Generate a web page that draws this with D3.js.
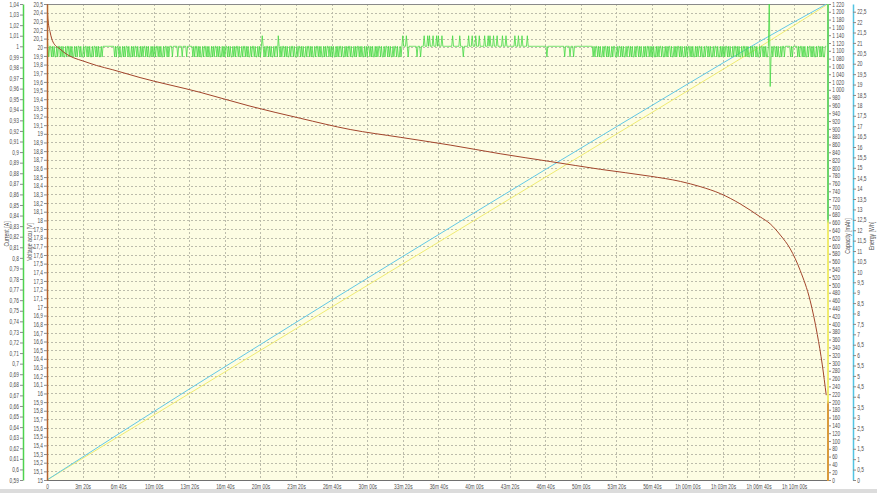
<!DOCTYPE html>
<html><head><meta charset="utf-8">
<script src="https://cdn.jsdelivr.net/npm/d3@7"></script>
<style>
body{margin:0;background:#ffffff;}
svg{display:block;font-family:"Liberation Sans",Arial,sans-serif;}
</style>
</head><body>
<svg id="chart" width="877" height="493"></svg>
<script>
// ---------------- DATA ----------------
const timeTicks = [0,200,400,600,800,1000,1200,1400,1600,1800,2000,2200,2400,2600,2800,3000,3200,3400,3600,3800,4000,4200];
const timeTickLabels = ["0","3m 20s","6m 40s","10m 00s","13m 20s","16m 40s","20m 00s","23m 20s","26m 40s","30m 00s","33m 20s","36m 40s","40m 00s","43m 20s","46m 40s","50m 00s","53m 20s","56m 40s","1h 00m 00s","1h 03m 20s","1h 06m 40s","1h 10m 00s"];

// Voltage (accu) [V] vs time [s]
const voltageTime   = [0, 5, 17, 34, 73, 110, 148, 205, 278, 370, 523, 860, 1141, 1423, 1704, 1985, 2266, 2547, 2828, 3110, 3391, 3560, 3672, 3784, 3897, 4009, 4065, 4122, 4178, 4234, 4290, 4330, 4358, 4380];
const voltageValues = [20.55, 20.33, 20.18, 20.06, 19.98, 19.92, 19.88, 19.84, 19.79, 19.74, 19.65, 19.48, 19.32, 19.18, 19.05, 18.96, 18.87, 18.77, 18.68, 18.59, 18.51, 18.45, 18.39, 18.31, 18.19, 18.04, 17.96, 17.83, 17.67, 17.42, 17.07, 16.68, 16.33, 15.98];

// Capacity [mAh] vs time
const capacityTime   = [0, 1000, 2000, 3000, 4000, 4380];
const capacityValues = [0, 277, 554, 831, 1108, 1217];

// Energy [Wh] vs time
const energyTime   = [0, 400, 800, 1200, 1600, 2000, 2400, 2800, 3200, 3600, 4000, 4380];
const energyValues = [0, 2.20, 4.37, 6.51, 8.64, 10.74, 12.83, 14.91, 16.97, 19.02, 21.04, 22.86];

// Current [A]: one code per 5 s sample; block k starts at k*200 s
const currentSampleSeconds = 5;
const currentBlockSeconds = 200;
const currentLevels = {"0":0.99, "1":1.00, "2":1.01, "H":1.05, "L":0.962};
const currentBlocks = [
  "2101101010010110101001011010100101011010",
  "0101101010010110101001011111111111110101",
  "1010010101101001010110100101011010100101",
  "0101101010010110101110111110111101111011",
  "1111010110101001011010100101011010100101",
  "0110101001010110100101101010010110100101",
  "0121010110101001011021010110101001011010",
  "0101101010010110101001011010100101011010",
  "1010010101101001010110100101011010100101",
  "0110101001010110100101101010010110100101",
  "2111210111111111011101112111212111211121",
  "2111211111111111211111112111011111211121",
  "1121112111112111212111211121111121112111",
  "1111112111211121111121111111111111111111",
  "1101111111111111111111011111011101111111",
  "1111111111111101011010100101101010010110",
  "0101101010010110101001011010100101011010",
  "1010010101101001010110100101011010100101",
  "0110101001010110100101101010010110100101",
  "0101101010010110101001011010100101011010",
  "010110101001HL01011010100101101111110101",
  "111101011010100101101010010110101001"
];

// Axis domains
const voltageDomain  = [15, 20.5];
const currentDomain  = [0.59, 1.04];
const capacityDomain = [0, 1220];
const energyDomain   = [0, 22.87];
const timeDomain     = [0, 4390];

// ---------------- LAYOUT ----------------
const plot = {left: 47, right: 828, top: 4, bottom: 480};
const svg = d3.select("#chart");
const FONT = "6.7px";
const TXT = "#4f4f4f";
const SQUEEZE = "scale(0.72,1)";

const loc = d3.formatLocale({decimal: ",", thousands: " ", grouping: [3], currency: ["", ""]});
const fmtTrim = loc.format("~f");
const fmtCap  = d => d >= 1000 ? Math.floor(d/1000) + " " + d3.format("03d")(d % 1000) : String(d);

const x  = d3.scaleLinear().domain(timeDomain).range([plot.left, plot.right]);
const yV = d3.scaleLinear().domain(voltageDomain).range([plot.bottom, plot.top]);
const yI = d3.scaleLinear().domain(currentDomain).range([plot.bottom, plot.top]);
const yC = d3.scaleLinear().domain(capacityDomain).range([plot.bottom, plot.top]);
const yE = d3.scaleLinear().domain(energyDomain).range([plot.bottom, plot.top]);

const voltageTicks  = d3.range(150, 206).map(v => v / 10);
const currentTicks  = d3.range(59, 105).map(v => v / 100);
const capacityTicks = d3.range(0, 1221, 20);
const energyTicks   = d3.range(0, 46).map(v => v / 2);

// bottom grey band
svg.append("rect").attr("x", 0).attr("y", 489).attr("width", 877).attr("height", 4).attr("fill", "#dcdcdc");

// plot background
svg.append("rect").attr("x", plot.left).attr("y", plot.top)
  .attr("width", plot.right - plot.left).attr("height", plot.bottom - plot.top)
  .attr("fill", "#fdfde3");

// grid
const grid = svg.append("g").attr("stroke", "#bcbcab").attr("stroke-width", 1).attr("stroke-dasharray", "2,2");
voltageTicks.forEach(v => {
  const yy = Math.round(yV(v)) + 0.5;
  grid.append("line").attr("x1", plot.left).attr("x2", plot.right).attr("y1", yy).attr("y2", yy);
});
timeTicks.slice(1).forEach(t => {
  const xx = Math.round(x(t)) + 0.5;
  grid.append("line").attr("x1", xx).attr("x2", xx).attr("y1", plot.top).attr("y2", plot.bottom);
});

// top border
svg.append("line").attr("x1", plot.left).attr("x2", plot.right).attr("y1", plot.top + 0.5).attr("y2", plot.top + 0.5)
  .attr("stroke", "#8a8a8a");

// clip
svg.append("clipPath").attr("id", "clip").append("rect")
  .attr("x", plot.left).attr("y", plot.top).attr("width", plot.right - plot.left).attr("height", plot.bottom - plot.top);
const series = svg.append("g").attr("clip-path", "url(#clip)");

// capacity
series.append("path")
  .datum(capacityTime.map((t, i) => [t, capacityValues[i]]))
  .attr("fill", "none").attr("stroke", "#efeb72").attr("stroke-width", 1)
  .attr("d", d3.line().x(d => x(d[0])).y(d => yC(d[1])));

// energy
series.append("path")
  .datum(energyTime.map((t, i) => [t, energyValues[i]]))
  .attr("fill", "none").attr("stroke", "#62c8e6").attr("stroke-width", 1)
  .attr("d", d3.line().x(d => x(d[0])).y(d => yE(d[1])).curve(d3.curveMonotoneX));

// current
const currentData = [];
currentBlocks.forEach((blk, k) => {
  blk.split("").forEach((c, i) => currentData.push([k * currentBlockSeconds + i * currentSampleSeconds, currentLevels[c]]));
});
currentData.push([4380, currentData[currentData.length - 1][1]]);
series.append("path")
  .datum(currentData)
  .attr("fill", "none").attr("stroke", "#44d844").attr("stroke-width", 0.8)
  .attr("d", d3.line().x(d => x(d[0])).y(d => yI(d[1])));

// voltage
series.append("path")
  .datum(voltageTime.map((t, i) => [t, voltageValues[i]]))
  .attr("fill", "none").attr("stroke", "#a2452c").attr("stroke-width", 1)
  .attr("d", d3.line().x(d => x(d[0])).y(d => yV(d[1])).curve(d3.curveMonotoneX));

// bottom axis line
svg.append("line").attr("x1", plot.left).attr("x2", plot.right).attr("y1", plot.bottom + 0.5).attr("y2", plot.bottom + 0.5)
  .attr("stroke", "#707070");

// ---------------- AXES ----------------
function styleAxis(g, lineColor) {
  g.selectAll("text").attr("fill", TXT).style("font-size", FONT).attr("transform", SQUEEZE);
  g.selectAll(".tick line").attr("stroke", "#8a8a8a");
  g.select(".domain").attr("stroke", lineColor).attr("stroke-width", 1.5);
}

// X axis
const gx = svg.append("g").attr("transform", `translate(0,${plot.bottom})`)
  .call(d3.axisBottom(x).tickValues(timeTicks).tickFormat((d, i) => timeTickLabels[i]).tickSize(0).tickPadding(4.5));
gx.select(".domain").remove();
gx.selectAll("text").attr("fill", TXT).style("font-size", FONT).attr("transform", SQUEEZE);

// Voltage axis (left, at plot edge)
const gv = svg.append("g").attr("transform", `translate(${plot.left},0)`)
  .call(d3.axisLeft(yV).tickValues(voltageTicks).tickFormat(fmtTrim).tickSize(3).tickSizeOuter(0).tickPadding(2.8));
styleAxis(gv, "#b5622c");

// Current axis
const gi = svg.append("g").attr("transform", `translate(23,0)`)
  .call(d3.axisLeft(yI).tickValues(currentTicks).tickFormat(fmtTrim).tickSize(3).tickSizeOuter(0).tickPadding(2.8));
styleAxis(gi, "#4ed24e");

// Capacity axis (right plot edge)
const defs = svg.append("defs");
const grad = defs.append("linearGradient").attr("id", "capGrad").attr("x1", 0).attr("x2", 0).attr("y1", 0).attr("y2", 1);
grad.append("stop").attr("offset", "0%").attr("stop-color", "#6bd46b");
grad.append("stop").attr("offset", "45%").attr("stop-color", "#6bd46b");
grad.append("stop").attr("offset", "46%").attr("stop-color", "#f0ec70");
grad.append("stop").attr("offset", "83%").attr("stop-color", "#f0ec70");
grad.append("stop").attr("offset", "84%").attr("stop-color", "#d99a3c");
grad.append("stop").attr("offset", "100%").attr("stop-color", "#d99a3c");

const gc = svg.append("g").attr("transform", `translate(${plot.right},0)`)
  .call(d3.axisRight(yC).tickValues(capacityTicks).tickFormat(fmtCap).tickSize(3).tickSizeOuter(0).tickPadding(2.8));
styleAxis(gc, "#f0ec70");
gc.select(".domain").remove();
svg.append("rect").attr("x", plot.right - 1).attr("y", plot.top).attr("width", 2).attr("height", plot.bottom - plot.top + 1)
  .attr("fill", "url(#capGrad)");

// Energy axis
const ge = svg.append("g").attr("transform", `translate(853,0)`)
  .call(d3.axisRight(yE).tickValues(energyTicks).tickFormat(fmtTrim).tickSize(3).tickSizeOuter(0).tickPadding(2.8));
styleAxis(ge, "#52c4e2");

// Axis titles
function vTitle(xPos, yPos, text) {
  svg.append("text").attr("transform", `translate(${xPos},${yPos}) rotate(-90) scale(0.78,1)`)
    .attr("text-anchor", "middle").attr("fill", TXT).style("font-size", FONT).text(text);
}
vTitle(8.5, 234, "Current [A]");
vTitle(32, 242, "Voltage accu [V]");
vTitle(850, 236, "Capacity [mAh]");
vTitle(874, 236, "Energy [Wh]");
</script>
</body></html>
